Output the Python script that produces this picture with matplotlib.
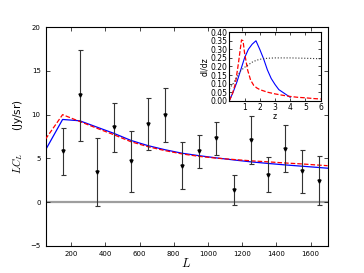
import matplotlib
matplotlib.use('Agg')
import matplotlib.pyplot as plt
import numpy as np

plt.rcParams['mathtext.fontset'] = 'cm'
plt.rcParams['xtick.direction'] = 'in'
plt.rcParams['ytick.direction'] = 'in'
plt.rcParams['xtick.top'] = True
plt.rcParams['ytick.right'] = True

# Measured band powers
L_data = [150, 250, 350, 450, 550, 650, 750, 850, 950, 1050, 1150, 1250, 1350, 1450, 1550, 1650]
LC_data = [5.8, 12.2, 3.4, 8.55, 4.65, 8.95, 9.95, 4.15, 5.8, 7.3, 1.35, 7.1, 3.15, 6.1, 3.5, 2.45]
LC_err = [2.7, 5.25, 3.9, 2.8, 3.5, 3.0, 3.1, 2.7, 1.85, 1.9, 1.7, 2.7, 2.0, 2.7, 2.5, 2.8]

# Model curves
L_model = [50, 150, 250, 350, 450, 550, 650, 750, 850, 950, 1050, 1150, 1250, 1350, 1450, 1550, 1650, 1700]
LC_blue = [5.95, 9.45, 9.3, 8.58, 7.86, 7.05, 6.45, 5.98, 5.58, 5.3, 5.05, 4.82, 4.6, 4.42, 4.25, 4.1, 3.95, 3.87]
LC_red = [7.2, 10.0, 9.22, 8.45, 7.7, 6.9, 6.33, 5.88, 5.5, 5.22, 5.02, 4.87, 4.72, 4.6, 4.47, 4.36, 4.22, 4.16]

# Inset: redshift distributions
z_blue = [0.0, 0.25, 0.5, 0.75, 1.0, 1.25, 1.5, 1.75, 2.0, 2.25, 2.5, 2.75, 3.0, 3.25, 3.5, 3.75, 4.0]
dI_blue = [0.0, 0.05, 0.11, 0.18, 0.25, 0.30, 0.33, 0.35, 0.30, 0.245, 0.18, 0.13, 0.095, 0.065, 0.05, 0.035, 0.02]
z_red = [0.0, 0.2, 0.4, 0.6, 0.8, 0.9, 1.0, 1.2, 1.4, 1.6, 1.8, 2.0, 2.5, 3.0, 3.5, 4.0, 4.5, 5.0, 5.5, 6.0]
dI_red = [0.0, 0.04, 0.10, 0.22, 0.355, 0.35, 0.28, 0.18, 0.12, 0.09, 0.075, 0.065, 0.05, 0.04, 0.032, 0.025, 0.02, 0.017, 0.013, 0.01]
z_dot = [0.0, 0.25, 0.5, 0.75, 1.0, 1.25, 1.5, 1.75, 2.0, 2.5, 3.0, 4.0, 5.0, 6.0]
dI_dot = [0.07, 0.10, 0.14, 0.175, 0.195, 0.21, 0.225, 0.235, 0.242, 0.248, 0.25, 0.25, 0.248, 0.245]

fig = plt.figure(figsize=(3.64, 2.73), dpi=100)
ax = fig.add_axes([0.125, 0.1, 0.775, 0.8])

ax.axhline(0, color='0.62', lw=1.6, zorder=1)
ax.plot(L_model, LC_blue, color='blue', lw=0.9, zorder=2)
ax.plot(L_model, LC_red, color='red', lw=0.9, ls='--', zorder=3)
ax.errorbar(L_data, LC_data, yerr=LC_err, fmt='v', color='black', ms=2.2,
            ecolor='0.2', elinewidth=0.8, capsize=1.8, capthick=0.8, zorder=4)

ax.set_xlim(50, 1700)
ax.set_ylim(-5, 20)
ax.set_xticks([200, 400, 600, 800, 1000, 1200, 1400, 1600])
ax.set_yticks([-5, 0, 5, 10, 15, 20])
ax.tick_params(labelsize=5, length=3, width=0.5)
for s in ax.spines.values():
    s.set_linewidth(0.8)
ax.set_xlabel('$L$', fontsize=9, labelpad=0)
ax.set_ylabel(r'$LC_L$       (Jy/sr)', fontsize=7.5, labelpad=4)

# Inset
axi = fig.add_axes([0.63, 0.631, 0.251, 0.251])
axi.plot(z_blue, dI_blue, color='blue', lw=0.8)
axi.plot(z_red, dI_red, color='red', lw=0.9, ls='--')
axi.plot(z_dot, dI_dot, color='0.2', lw=0.8, ls=':')
axi.set_xlim(0, 6)
axi.set_ylim(0, 0.4)
axi.set_xticks([1, 2, 3, 4, 5, 6])
axi.set_yticks(np.arange(0, 0.41, 0.05))
axi.set_yticklabels(['%.2f' % v for v in np.arange(0, 0.41, 0.05)])
axi.tick_params(labelsize=5.5, length=2, width=0.5, pad=1.5)
for s in axi.spines.values():
    s.set_linewidth(0.8)
axi.set_xlabel('z', fontsize=5.5, labelpad=0)
axi.set_ylabel('dI/dz', fontsize=5.5, labelpad=1)

fig.savefig('out.png', dpi=100)
